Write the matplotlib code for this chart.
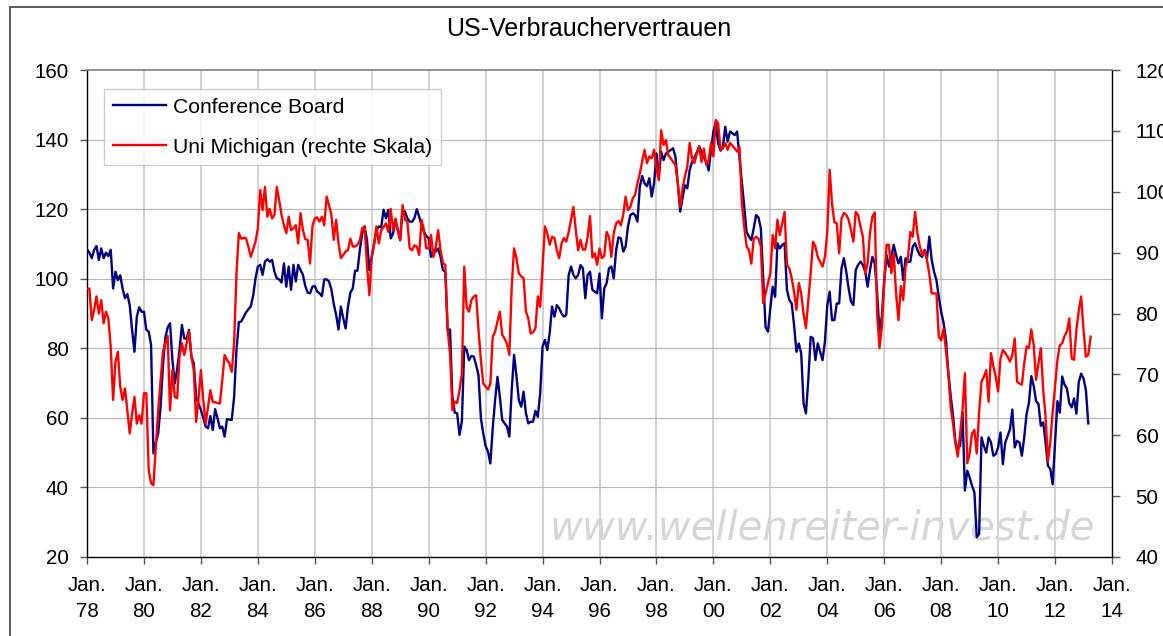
import matplotlib
matplotlib.use("Agg")
import matplotlib.pyplot as plt
from matplotlib.lines import Line2D
from matplotlib.patches import Rectangle
import numpy as np

plt.rcParams['font.family'] = ['Liberation Sans', 'DejaVu Sans']

# ---------------- Conference Board (left scale), monthly from Jan 1978 ----------------
cb_1978 = [108.4, 107.5, 105.9, 108.3, 109.4, 105.4, 108.7, 105.9, 107.5, 106.5, 108.3, 97.2]
cb_1979 = [102.0, 99.6, 101.0, 97.2, 94.4, 95.6, 92.4, 85.3, 79.0, 89.1, 91.8, 90.5]
cb_1980 = [90.5, 85.3, 84.8, 81.0, 49.8, 53.0, 55.5, 63.0, 75.0, 83.0, 86.0, 87.2]
cb_1981 = [76.6, 69.9, 74.0, 79.5, 86.7, 82.8, 82.8, 85.3, 77.6, 75.7, 66.1, 64.0]
cb_1982 = [62.3, 60.0, 57.5, 57.0, 60.5, 56.5, 62.5, 59.9, 57.0, 57.5, 54.6, 59.6]
cb_1983 = [59.5, 59.4, 66.0, 79.5, 87.5, 87.7, 89.0, 90.3, 91.2, 92.0, 95.0, 100.0]
cb_1984 = [103.5, 104.0, 101.1, 104.9, 105.6, 104.9, 105.4, 102.0, 100.1, 99.8, 98.9, 104.4]
cb_1985 = [97.7, 103.5, 96.8, 104.0, 99.2, 104.0, 102.5, 101.1, 97.9, 96.0, 95.8, 97.7]
cb_1986 = [97.9, 96.3, 95.8, 95.0, 99.8, 99.8, 99.2, 96.9, 92.7, 89.6, 85.4, 92.0]
cb_1987 = [88.6, 85.7, 92.0, 96.0, 97.2, 102.3, 102.3, 108.3, 113.0, 115.0, 111.1, 102.5]
cb_1988 = [106.3, 110.2, 114.0, 115.0, 114.8, 119.8, 117.4, 119.8, 111.6, 113.0, 116.9, 114.0]
cb_1989 = [111.1, 119.8, 119.3, 117.4, 116.4, 116.4, 117.4, 120.0, 117.8, 115.4, 113.5, 112.3]
cb_1990 = [111.6, 106.3, 108.0, 107.8, 108.7, 106.3, 102.5, 102.0, 85.3, 85.4, 66.0, 61.5]
cb_1991 = [61.3, 55.1, 58.9, 80.5, 79.5, 76.6, 77.8, 77.6, 75.2, 72.3, 60.0, 55.5]
cb_1992 = [51.9, 50.3, 46.9, 57.0, 65.1, 71.8, 66.0, 59.4, 58.4, 57.5, 54.6, 68.0]
cb_1993 = [78.1, 72.0, 65.1, 63.2, 67.5, 61.3, 58.4, 58.9, 58.9, 62.0, 60.3, 67.0]
cb_1994 = [80.5, 82.4, 79.5, 84.3, 92.0, 89.1, 92.4, 91.5, 90.0, 89.1, 89.6, 101.0]
cb_1995 = [103.5, 101.1, 100.1, 101.1, 103.9, 103.0, 94.4, 101.1, 102.0, 96.8, 96.3, 95.8]
cb_1996 = [101.5, 88.6, 97.2, 98.7, 103.0, 103.5, 100.1, 108.2, 111.9, 111.6, 107.8, 109.2]
cb_1997 = [115.0, 118.3, 118.8, 118.3, 116.4, 126.5, 129.5, 127.4, 126.6, 128.9, 123.6, 127.4]
cb_1998 = [136.0, 129.3, 136.5, 134.1, 136.0, 136.5, 137.0, 137.5, 135.1, 127.4, 119.3, 123.1]
cb_1999 = [126.9, 126.0, 131.2, 133.6, 134.9, 136.2, 138.1, 136.5, 134.9, 133.6, 131.1, 137.0]
cb_2000 = [142.3, 145.1, 138.9, 136.8, 138.0, 143.7, 139.4, 142.3, 141.8, 141.3, 142.3, 134.9]
cb_2001 = [127.9, 120.7, 113.5, 112.1, 111.1, 114.5, 118.3, 117.6, 114.5, 100.0, 86.0, 84.8]
cb_2002 = [91.5, 97.7, 94.8, 110.2, 108.7, 109.7, 110.2, 96.8, 93.9, 92.9, 86.7, 79.0]
cb_2003 = [81.4, 78.6, 64.2, 61.3, 70.9, 83.3, 82.9, 76.6, 81.4, 79.0, 76.6, 81.9]
cb_2004 = [92.4, 96.3, 88.1, 88.1, 92.9, 92.9, 103.0, 105.9, 102.0, 97.2, 93.4, 92.4]
cb_2005 = [102.5, 104.0, 104.9, 104.0, 102.0, 97.7, 102.5, 106.3, 104.4, 96.0, 84.8, 89.1]
cb_2006 = [99.6, 106.8, 103.5, 106.3, 109.7, 106.8, 104.4, 106.3, 99.6, 105.9, 104.9, 104.9]
cb_2007 = [109.2, 110.2, 108.3, 106.8, 106.3, 108.3, 105.9, 112.1, 105.4, 102.0, 99.6, 94.8]
cb_2008 = [90.5, 87.4, 82.6, 73.1, 66.4, 60.6, 53.0, 51.1, 52.0, 61.6, 39.1, 44.8]
cb_2009 = [42.9, 40.5, 38.6, 25.7, 26.6, 54.4, 51.9, 50.0, 54.4, 52.9, 49.1, 49.6]
cb_2010 = [51.5, 55.8, 46.7, 52.9, 54.8, 56.7, 62.4, 51.5, 53.4, 52.9, 49.1, 54.4]
cb_2011 = [61.1, 64.4, 72.0, 69.2, 64.8, 64.0, 57.7, 58.7, 52.9, 46.2, 45.3, 40.9]
cb_2012 = [53.0, 64.8, 61.5, 71.9, 69.5, 68.5, 64.2, 63.0, 65.6, 61.2, 70.3, 72.7]
cb_2013 = [71.3, 68.0, 58.4]

# ---------------- Uni Michigan (right scale), monthly from Jan 1978 ----------------
um_1978 = [84.0, 84.1, 78.9, 80.6, 82.8, 80.0, 82.2, 78.4, 80.3, 79.2, 74.5, 65.8]
um_1979 = [72.1, 73.7, 68.0, 65.8, 67.7, 64.1, 60.3, 63.5, 66.3, 61.9, 63.3, 61.9]
um_1980 = [66.9, 66.9, 54.3, 52.1, 51.8, 58.1, 64.1, 69.0, 73.7, 75.1, 76.3, 64.1]
um_1981 = [70.7, 66.3, 66.1, 72.9, 75.1, 73.2, 75.1, 77.0, 72.9, 70.7, 62.2, 66.0]
um_1982 = [70.7, 65.8, 61.9, 64.7, 67.4, 65.5, 65.4, 65.3, 65.2, 69.0, 73.2, 72.4]
um_1983 = [71.8, 70.4, 75.1, 86.6, 93.2, 92.3, 92.4, 92.4, 91.0, 89.3, 90.5, 91.8]
um_1984 = [94.0, 100.3, 97.0, 100.8, 95.9, 97.2, 95.6, 96.2, 100.8, 98.6, 96.2, 94.5]
um_1985 = [93.2, 95.9, 93.7, 94.0, 94.5, 91.5, 96.5, 93.7, 92.2, 92.1, 88.2, 94.3]
um_1986 = [95.6, 95.8, 95.1, 95.9, 94.5, 99.2, 97.8, 96.2, 92.1, 95.4, 91.5, 89.1]
um_1987 = [89.6, 90.2, 90.4, 92.3, 91.0, 91.0, 91.3, 92.0, 94.0, 94.3, 88.0, 83.0]
um_1988 = [89.3, 91.3, 94.3, 91.5, 93.7, 94.2, 94.8, 93.4, 97.2, 93.7, 95.6, 93.7]
um_1989 = [92.1, 97.8, 95.4, 95.1, 90.7, 90.4, 91.2, 91.0, 89.6, 95.4, 93.7, 90.7]
um_1990 = [90.7, 92.9, 89.3, 91.0, 93.7, 90.4, 88.3, 88.0, 77.3, 73.5, 64.1, 65.5]
um_1991 = [65.3, 67.4, 70.2, 87.7, 81.0, 80.3, 82.2, 82.8, 83.0, 77.3, 72.4, 68.5]
um_1992 = [68.0, 67.5, 68.5, 76.2, 77.0, 78.7, 80.3, 76.5, 75.9, 75.0, 73.2, 84.4]
um_1993 = [90.7, 89.1, 86.6, 86.1, 85.8, 80.3, 79.2, 76.7, 76.9, 77.6, 82.8, 81.1]
um_1994 = [87.7, 94.3, 93.2, 91.3, 92.6, 92.4, 90.4, 89.1, 91.5, 92.4, 91.8, 93.4]
um_1995 = [95.4, 97.5, 93.7, 90.4, 92.1, 90.5, 90.5, 92.6, 96.0, 89.2, 89.9, 88.0]
um_1996 = [90.7, 89.1, 89.5, 93.4, 92.6, 89.3, 93.2, 94.8, 95.2, 94.5, 96.2, 99.2]
um_1997 = [97.0, 97.5, 98.9, 99.5, 101.4, 103.0, 105.0, 106.9, 104.7, 105.8, 105.5, 106.9]
um_1998 = [103.8, 101.9, 110.1, 107.7, 108.5, 106.0, 105.5, 104.9, 104.4, 101.4, 97.5, 100.6]
um_1999 = [102.5, 104.1, 108.0, 105.5, 104.7, 106.3, 107.4, 104.9, 107.1, 104.4, 105.2, 108.0]
um_2000 = [105.8, 111.8, 111.2, 106.9, 107.1, 108.0, 106.9, 108.0, 107.6, 107.1, 106.6, 107.4]
um_2001 = [98.1, 94.3, 91.0, 90.4, 88.2, 92.3, 92.6, 92.3, 91.0, 81.7, 83.3, 85.0]
um_2002 = [86.6, 92.9, 90.7, 95.4, 92.9, 94.8, 96.7, 88.0, 87.4, 85.8, 83.6, 80.6]
um_2003 = [85.0, 83.3, 80.0, 77.6, 82.2, 86.6, 91.8, 91.0, 89.3, 88.5, 87.7, 89.3]
um_2004 = [93.3, 103.6, 98.1, 95.0, 94.8, 89.9, 95.6, 96.5, 96.2, 95.4, 93.7, 91.8]
um_2005 = [96.7, 96.2, 94.3, 92.6, 86.6, 88.2, 93.2, 95.9, 96.6, 80.0, 74.3, 77.8]
um_2006 = [85.0, 91.3, 91.3, 86.6, 89.9, 83.3, 78.9, 84.5, 82.2, 87.7, 89.1, 93.4]
um_2007 = [92.6, 96.7, 93.2, 91.0, 89.6, 90.4, 88.8, 86.5, 83.3, 83.3, 83.3, 76.2]
um_2008 = [75.6, 77.5, 74.0, 70.2, 64.7, 62.0, 58.7, 56.5, 60.3, 64.1, 70.2, 55.4]
um_2009 = [57.0, 60.3, 60.9, 57.0, 63.9, 68.8, 69.6, 70.7, 65.5, 73.5, 71.3, 69.6]
um_2010 = [67.2, 72.6, 74.0, 73.5, 72.9, 72.1, 73.2, 75.9, 68.8, 68.5, 68.3, 71.8]
um_2011 = [74.6, 74.3, 77.4, 74.8, 69.1, 71.8, 74.3, 67.4, 63.1, 55.7, 58.9, 63.9]
um_2012 = [68.0, 72.4, 74.8, 75.1, 76.3, 77.0, 79.2, 72.6, 72.4, 77.3, 80.5, 82.8]
um_2013 = [77.3, 72.9, 73.2, 76.2]

cb_years = [cb_1978, cb_1979, cb_1980, cb_1981, cb_1982, cb_1983, cb_1984, cb_1985, cb_1986,
            cb_1987, cb_1988, cb_1989, cb_1990, cb_1991, cb_1992, cb_1993, cb_1994, cb_1995,
            cb_1996, cb_1997, cb_1998, cb_1999, cb_2000, cb_2001, cb_2002, cb_2003, cb_2004,
            cb_2005, cb_2006, cb_2007, cb_2008, cb_2009, cb_2010, cb_2011, cb_2012, cb_2013]
um_years = [um_1978, um_1979, um_1980, um_1981, um_1982, um_1983, um_1984, um_1985, um_1986,
            um_1987, um_1988, um_1989, um_1990, um_1991, um_1992, um_1993, um_1994, um_1995,
            um_1996, um_1997, um_1998, um_1999, um_2000, um_2001, um_2002, um_2003, um_2004,
            um_2005, um_2006, um_2007, um_2008, um_2009, um_2010, um_2011, um_2012, um_2013]

conference_board = [v for yr in cb_years for v in yr]
uni_michigan = [v for yr in um_years for v in yr]

tick_years = ['78', '80', '82', '84', '86', '88', '90', '92', '94', '96', '98',
              '00', '02', '04', '06', '08', '10', '12', '14']
left_ticks = [20, 40, 60, 80, 100, 120, 140, 160]
right_ticks = [40, 50, 60, 70, 80, 90, 100, 110, 120]

title = 'US-Verbrauchervertrauen'
label_cb = 'Conference Board'
label_um = 'Uni Michigan (rechte Skala)'
watermark = 'www.wellenreiter-invest.de'

# ---------------- figure ----------------
W, H = 1163, 636
fig = plt.figure(figsize=(W / 100, H / 100), dpi=100)
ax = fig.add_axes([87 / W, 79 / H, 1025 / W, 487 / H])
ax2 = ax.twinx()

months_cb = np.arange(len(conference_board))
months_um = np.arange(len(uni_michigan))
n_months = 12 * 2 * (len(tick_years) - 1)

ax.set_xlim(0, n_months)
ax.set_ylim(left_ticks[0], left_ticks[-1])
ax2.set_ylim(right_ticks[0], right_ticks[-1])

xt = np.arange(0, n_months + 1, 24)
ax.set_xticks(xt)
ax.set_xticklabels(['Jan.\n' + y for y in tick_years])
for lbl in ax.get_xticklabels():
    lbl.set_linespacing(1.45)
ax.set_yticks(left_ticks)
ax2.set_yticks(right_ticks)

# grid
for y in left_ticks[1:-1]:
    ax.axhline(y, color='#b8b8b8', lw=0.9, zorder=0.5)
for x in xt[1:-1]:
    ax.axvline(x, color='#d2d2d2', lw=1.4, zorder=0.4)

# watermark
ax.text(822 / W, 1 - 540 / H, watermark, transform=fig.transFigure, ha='center',
        va='baseline', fontsize=29, style='italic', family='DejaVu Sans',
        color='#d6d6d6', zorder=1, clip_on=False)

ax.plot(months_cb, conference_board, color='#000080', lw=1.7, zorder=3)
ax2.plot(months_um, uni_michigan, color='#ff0000', lw=1.7, zorder=3)

# spines
ax.spines['right'].set_visible(False)
ax.spines['top'].set_visible(False)
ax.spines['left'].set_color('black')
ax.spines['bottom'].set_color('black')
ax2.spines['left'].set_visible(False)
ax2.spines['bottom'].set_visible(False)
ax2.spines['top'].set_color('#808080')
ax2.spines['top'].set_linewidth(1.2)
ax2.spines['right'].set_color('black')
for sp in ['left', 'bottom']:
    ax.spines[sp].set_linewidth(1.0)
ax2.spines['right'].set_linewidth(1.0)

ax.tick_params(axis='y', direction='out', length=5, width=1, color='#555555',
               labelsize=14.8, pad=8)
ax.tick_params(axis='x', direction='out', length=5, width=1, color='#555555',
               labelsize=14.8, pad=9)
ax2.tick_params(axis='y', direction='out', length=6, width=1, color='#555555',
                labelsize=14.8, pad=11)

# legend
handles = [Line2D([], [], color='#000080', lw=1.7), Line2D([], [], color='#ff0000', lw=1.7)]
leg = ax2.legend(handles, [label_cb, label_um], loc='upper left',
                 bbox_to_anchor=((104 - 87) / 1025, (557 - 89) / 487),
                 bbox_transform=ax.transAxes, borderaxespad=0, fontsize=15.2,
                 frameon=True, fancybox=False, edgecolor='#c0c0c0',
                 handlelength=2.5, handletextpad=0.35, labelspacing=0.98,
                 borderpad=0.42)
leg.get_frame().set_linewidth(1.0)
leg.set_zorder(10)

# title
fig.text(589 / W, 1 - 36 / H, title, ha='center', va='baseline', fontsize=18)

# outer chart border
fig.add_artist(Rectangle((10 / W, -0.05), 1.2, 1.05 - 7 / H, transform=fig.transFigure,
                         fill=False, edgecolor='#404040', lw=1.2))

fig.savefig('out.png', dpi=100)
